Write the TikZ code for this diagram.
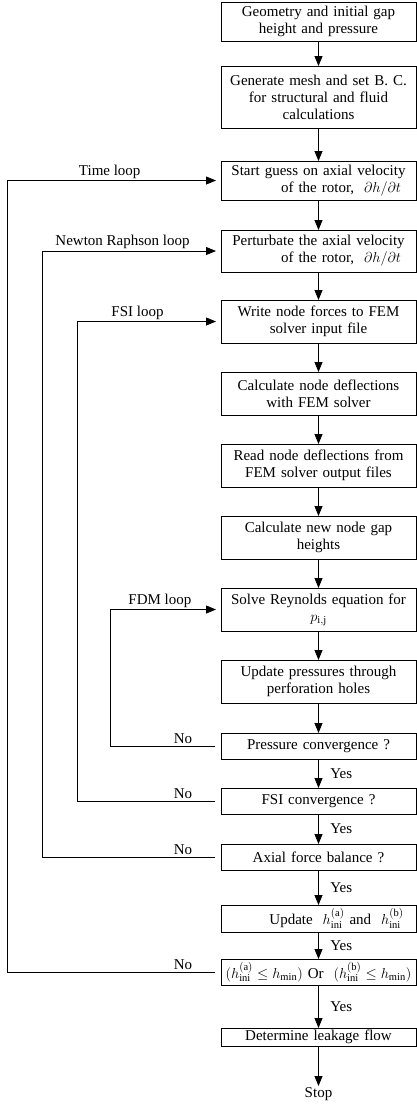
\documentclass[tikz,border=0pt]{standalone}
\usepackage{fontspec}
\setmainfont{Liberation Serif}
\usetikzlibrary{arrows.meta,positioning}

\begin{document}
\begin{tikzpicture}[x=1pt,y=1pt,>={Triangle[length=10pt,width=8pt]},auto,node distance=29pt,
                    line width=0.8pt,font=\fontsize{15}{17}\selectfont,
                    box/.style={draw,text width=187pt,align=center,inner xsep=4pt,inner ysep=2pt,
                                outer sep=0pt,minimum height=43pt},
                    short box/.style={box,minimum height=26pt},
                    lbl/.style={inner sep=1.5pt},
                    back/.style={->,shorten <=6pt,shorten >=5pt}]

  \useasboundingbox (0,0) rectangle (417,-1104);

  \node[box,minimum height=39pt] (1) at (318.5,-21.5) {Geometry and initial gap\\ height and pressure};
  \node[box,minimum height=62pt] (2) [below=25pt of 1] {Generate mesh and set B. C.\\ for structural and fluid\\ calculations};
  \node[box,minimum height=39pt] (3) [below=33pt of 2] {Start guess on axial velocity\\ \hspace*{3em}of the rotor, \ $\partial h/\partial t$};
  \node[box,minimum height=42pt] (4) [below=30pt of 3] {Perturbate the axial velocity\\ \hspace*{3em}of the rotor, \ $\partial h/\partial t$};
  \node[box] (5) [below=28pt of 4] {Write node forces to FEM\\ solver input file};
  \node[box] (6) [below=of 5] {Calculate node deflections\\ with FEM solver};
  \node[box] (7) [below=of 6] {Read node deflections from\\ FEM solver output files};
  \node[box] (8) [below=of 7] {Calculate new node gap\\ heights};
  \node[box] (9) [below=of 8] {Solve Reynolds equation for\\ $p_{\mathrm{i,j}}$};
  \node[box] (10) [below=of 9] {Update pressures through\\ perforation holes};
  \node[short box] (11) [below=30pt of 10] {Pressure convergence ?};
  \node[short box] (12) [below=of 11] {FSI convergence ?};
  \node[short box] (13) [below=30pt of 12] {Axial force balance ?};
  \node[short box,minimum height=27pt] (14) [below=35pt of 13] {\hspace*{2.4em}Update \ $h_{\mathrm{ini}}^{(\mathrm{a})}$ and \ $h_{\mathrm{ini}}^{(\mathrm{b})}$};
  \node[short box] (15) [below=27pt of 14] {$(h_{\mathrm{ini}}^{(\mathrm{a})}\le h_{\min})$\ Or\ \ $(h_{\mathrm{ini}}^{(\mathrm{b})}\le h_{\min})$};
  \node[box,minimum height=18pt] (16) [below=43pt of 15] {Determine leakage flow};
  \node[inner sep=1pt] (17) [below=40pt of 16] {Stop};

  % x of the loop lines
  \coordinate (tl) at (7,0);
  \coordinate (nr) at (42,0);
  \coordinate (fsi) at (77,0);
  \coordinate (fdm) at (110,0);

  \path[->]
    (1) edge (2)
    (2) edge (3)
    (3) edge (4)
    (4) edge (5)
    (5) edge (6)
    (6) edge (7)
    (7) edge (8)
    (8) edge (9)
    (9) edge (10)
    (10) edge (11)
    (11) edge node[lbl,right=10pt] {Yes} (12)
    (12) edge node[lbl,right=10pt] {Yes} (13)
    (13) edge node[lbl,right=10pt] {Yes} (14)
    (14) edge node[lbl,right=10pt] {Yes} (15)
    (15) edge node[lbl,right=10pt] {Yes} (16)
    (16) edge (17);

  \draw[back] (11.west) -- node[lbl,above,pos=.76] {No} ++(-50,0) -| (fdm |- 9.west)
    -- node[lbl,above,pos=.45] {FDM loop} (9.west);
  \draw[back] (12.west) -- node[lbl,above,pos=.76] {No} ++(-50,0) -| (fsi |- 5.west)
    -- node[lbl,above,pos=.42] {FSI loop} (5.west);
  \draw[back] (13.west) -- node[lbl,above,pos=.76] {No} ++(-50,0) -| (nr |- 4.west)
    -- node[lbl,above,pos=.45] {Newton Raphson loop} (4.west);
  \draw[back] (15.west) -- node[lbl,above,pos=.76] {No} ++(-50,0) -| (tl |- 3.west)
    -- node[lbl,above,pos=.48] {Time loop} (3.west);
\end{tikzpicture}
\end{document}
